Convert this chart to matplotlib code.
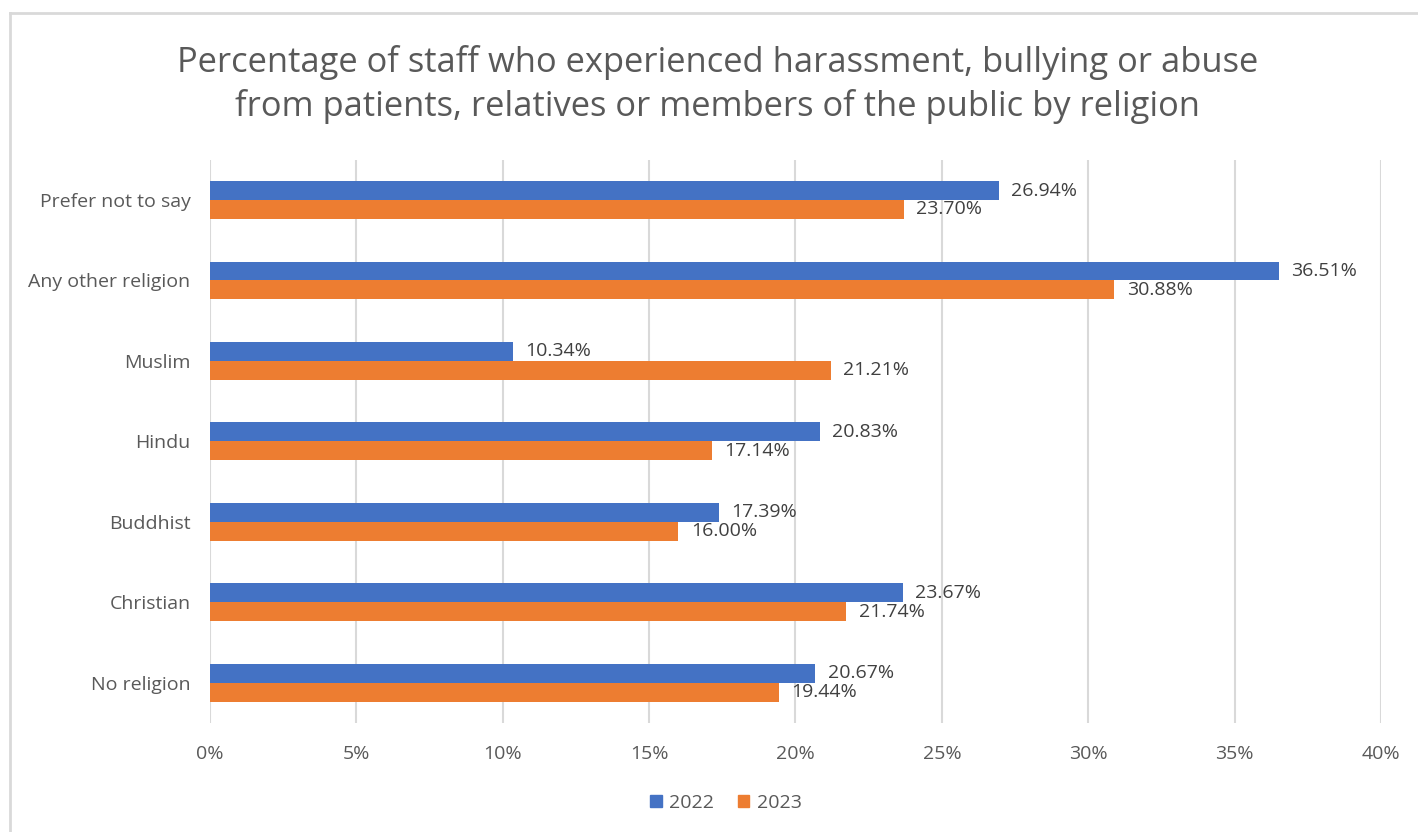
import matplotlib
matplotlib.use("Agg")
import matplotlib.pyplot as plt
from matplotlib.lines import Line2D
from matplotlib.patches import Patch
import numpy as np

plt.rcParams['font.family'] = ['Open Sans', 'DejaVu Sans']

categories = ["Prefer not to say", "Any other religion", "Muslim", "Hindu",
              "Buddhist", "Christian", "No religion"]
values_2022 = [26.94, 36.51, 10.34, 20.83, 17.39, 23.67, 20.67]
values_2023 = [23.70, 30.88, 21.21, 17.14, 16.00, 21.74, 19.44]
series_names = ["2022", "2023"]
x_ticks = [0, 5, 10, 15, 20, 25, 30, 35, 40]

blue = "#4472C4"
orange = "#ED7D31"
text_col = "#595959"
label_col = "#404040"

fig = plt.figure(figsize=(14.18, 8.32), dpi=100)
ax = fig.add_axes([0.148, 0.131, 0.826, 0.677])

y = np.arange(len(categories))
h = 0.235
ax.barh(y - h / 2, values_2022, height=h, color=blue, zorder=3)
ax.barh(y + h / 2, values_2023, height=h, color=orange, zorder=3)

for yi, v in zip(y - h / 2, values_2022):
    ax.annotate(f"{v:.2f}%", (v, yi), xytext=(9, 0), textcoords="offset points",
                va="center", ha="left", fontsize=14, color=label_col)
for yi, v in zip(y + h / 2, values_2023):
    ax.annotate(f"{v:.2f}%", (v, yi), xytext=(9, 0), textcoords="offset points",
                va="center", ha="left", fontsize=14, color=label_col)

ax.set_ylim(len(categories) - 0.5, -0.5)
ax.set_xlim(0, 40)
ax.set_yticks(y)
ax.set_yticklabels(categories)
ax.set_xticks(x_ticks)
ax.set_xticklabels([f"{t}%" for t in x_ticks])
ax.tick_params(axis="both", length=0, labelsize=14, labelcolor=text_col)
ax.tick_params(axis="x", pad=16)
ax.tick_params(axis="y", pad=14)
ax.grid(axis="x", color="#D9D9D9", linewidth=1.5, zorder=0)
for s in ax.spines.values():
    s.set_visible(False)

fig.text(0.506, 0.925, "Percentage of staff who experienced harassment, bullying or abuse",
         ha="center", va="center", fontsize=24.8, color=text_col)
fig.text(0.506, 0.872, "from patients, relatives or members of the public by religion",
         ha="center", va="center", fontsize=24.8, color=text_col)

handles = [Patch(color=blue), Patch(color=orange)]
fig.legend(handles, series_names, loc="center", bbox_to_anchor=(0.512, 0.035), ncol=2,
           frameon=False, fontsize=14, labelcolor=text_col, handlelength=0.6,
           handleheight=0.6, handletextpad=0.4, columnspacing=1.2)

# outer chart frame
fig.add_artist(Line2D([0.0071, 0.0071], [0.0, 0.9844], color="#D9D9D9", linewidth=2,
                      transform=fig.transFigure))
fig.add_artist(Line2D([0.0071, 1.0], [0.9844, 0.9844], color="#D9D9D9", linewidth=2,
                      transform=fig.transFigure))

fig.savefig("out.png", dpi=100, facecolor="white")
